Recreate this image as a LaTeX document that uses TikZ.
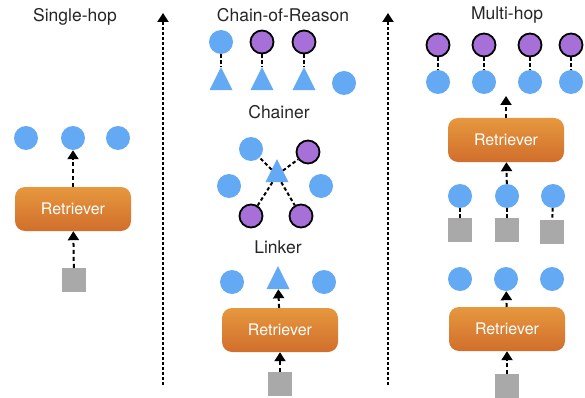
\documentclass[tikz,border=0pt]{standalone}
\usepackage{fontspec}
\setmainfont{TeX Gyre Heros}
\usetikzlibrary{shapes.geometric, arrows.meta}
\definecolor{docblue}{RGB}{100,169,243}
\definecolor{factpurple}{RGB}{166,112,216}
\definecolor{querygray}{RGB}{168,169,168}
\definecolor{rettop}{RGB}{230,152,62}
\definecolor{retbot}{RGB}{209,110,44}
\tikzstyle{title} = [font=\fontsize{17.5}{20}\selectfont, text=black!85]
\tikzstyle{doc} = [circle, 
minimum size=24pt, 
inner sep=0pt, 
fill=docblue]
\tikzstyle{fact} = [circle, 
minimum size=23pt, 
inner sep=0pt, 
draw=black, line width=1.8pt, 
fill=factpurple]
\tikzstyle{query} = [rectangle, 
minimum size=24pt, 
inner sep=0pt, 
fill=querygray]
\tikzstyle{hop} = [isosceles triangle, 
isosceles triangle stretches, % so width and height both hold
shape border rotate=90, 
minimum width=23pt, 
minimum height=23pt, 
inner sep=0pt, 
fill=docblue]
\tikzstyle{retriever} = [rectangle, rounded corners=10pt, 
minimum width=116pt, 
minimum height=44pt, 
top color=rettop, bottom color=retbot, 
text=white, 
font=\fontsize{16}{18}\selectfont]
\tikzstyle{arrow} = [line width=2pt, dash pattern=on 4pt off 3pt, -{Triangle[length=9pt,width=11pt]}]
\tikzstyle{link} = [line width=2pt, dash pattern=on 3.5pt off 2.5pt]
\tikzstyle{divider} = [line width=2pt, dash pattern=on 3pt off 2pt, -{Triangle[length=9pt,width=11pt]}]

\begin{document}
\begin{tikzpicture}[x=1pt, y=-1pt]
\useasboundingbox (0,0) rectangle (585,398);

% Single-hop
\node (t_single) [title] at (75,17) {Single-hop};
\node (s_d1) [doc] at (26,138) {};
\node (s_d2) [doc] at (73,138) {};
\node (s_d3) [doc] at (118,138) {};
\node (s_ret) [retriever] at (73,209) {Retriever};
\node (s_q) [query] at (74,280) {};

\draw [arrow] (s_ret) -- (s_d2);
\draw [arrow] (s_q) -- (s_ret);

% dividers
\coordinate (div1_bot) at (163,385);
\coordinate (div1_top) at (163,13);
\coordinate (div2_bot) at (388,385);
\coordinate (div2_top) at (388,13);
\draw [divider] (div1_bot) -- (div1_top);
\draw [divider] (div2_bot) -- (div2_top);

% Chain-of-Reason
\node (t_chain) [title] at (283,15) {Chain-of-Reason};
\node (c_top1) [doc] at (221,42) {};
\node (c_top2) [fact] at (262,42) {};
\node (c_top3) [fact] at (304,42) {};
\node (c_hop1) [hop] at (221,83) {};
\node (c_hop2) [hop] at (262,83) {};
\node (c_hop3) [hop] at (304,83) {};
\node (c_extra) [doc] at (344,83) {};
\draw [link] (c_top1) -- (c_hop1);
\draw [link] (c_top2) -- (c_hop2);
\draw [link] (c_top3) -- (c_hop3);

\node (t_chainer) [title] at (279,112) {Chainer};
\node (ch_hop) [hop] at (277,175) {};
\node (ch_ul) [doc] at (251,149) {};
\node (ch_ur) [fact] at (308,152) {};
\node (ch_l) [doc] at (229,186) {};
\node (ch_r) [doc] at (321,186) {};
\node (ch_ll) [fact] at (251,216) {};
\node (ch_lr) [fact] at (301,216) {};
\draw [link] (ch_hop) -- (ch_ul);
\draw [link] (ch_hop) -- (ch_ur);
\draw [link] (ch_hop) -- (ch_ll);
\draw [link] (ch_hop) -- (ch_lr);

\node (t_linker) [title] at (278,247) {Linker};
\node (l_d1) [doc] at (232,282) {};
\node (l_hop) [hop] at (278,282) {};
\node (l_d2) [doc] at (324,282) {};
\node (l_ret) [retriever] at (280,330) {Retriever};
\node (l_q) [query] at (280,384) {};
\draw [arrow] (l_ret) -- (l_hop);
\draw [arrow] (l_q) -- (l_ret);

% Multi-hop
\node (t_multi) [title] at (507,15) {Multi-hop};
\foreach \x [count=\i] in {438,484,530,571} {
  \node (m_f\i) [fact] at (\x,45) {};
  \node (m_d\i) [doc] at (\x,82) {};
  \draw [link] (m_f\i) -- (m_d\i);
}
\node (m_ret1) [retriever] at (506,140) {Retriever};
\coordinate (m_out) at (506,96);
\draw [arrow] (m_ret1) -- (m_out);

\node (m_h1) [doc] at (460,196) {};
\node (m_h2) [doc] at (507,196) {};
\node (m_h3) [doc] at (553,196) {};
\node (m_q1) [query] at (460,230) {};
\node (m_q2) [query] at (507,230) {};
\node (m_q3) [query] at (552,232) {};
\draw [link] (m_h1) -- (m_q1);
\draw [link] (m_h2) -- (m_q2);
\draw [link] (m_h3) -- (m_q3);
\draw [arrow] (m_h2) -- (m_ret1);

\node (m_e1) [doc] at (460,279) {};
\node (m_e2) [doc] at (506,279) {};
\node (m_e3) [doc] at (552,279) {};
\node (m_ret2) [retriever] at (507,329) {Retriever};
\node (m_q) [query] at (507,386) {};
\draw [arrow] (m_ret2) -- (m_e2);
\draw [arrow] (m_q) -- (m_ret2);
\end{tikzpicture}
\end{document}
